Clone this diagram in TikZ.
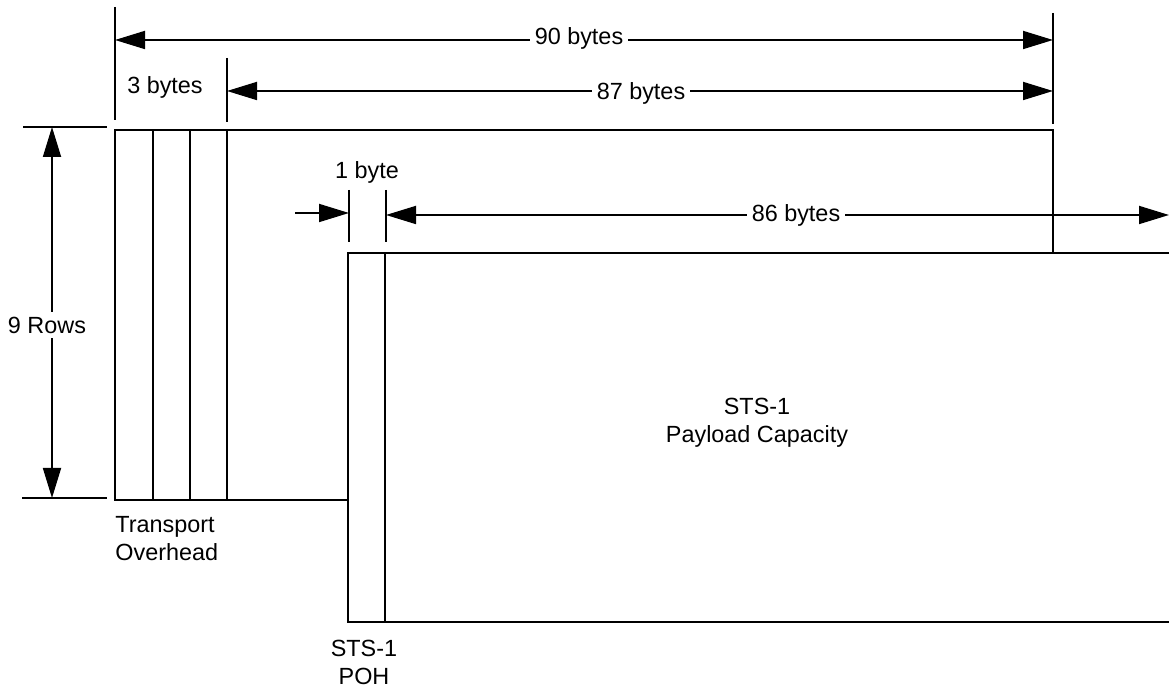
\documentclass[tikz,border=0pt]{standalone}
\usepackage{fontspec}
\setmainfont{Liberation Sans}
\usetikzlibrary{arrows.meta}
\begin{document}
\begin{tikzpicture}[x=0.5pt,y=-0.5pt,
  frame/.style={line width=1.3pt},
  tickline/.style={line width=1.3pt},
  dimline/.style={line width=0.9pt},
  bothtips/.style={{Triangle[length=15pt,width=9pt]}-{Triangle[length=15pt,width=9pt]}},
  endtip/.style={-{Triangle[length=15pt,width=9pt]}},
  lbl/.style={font=\fontsize{11.7}{14}\selectfont, inner sep=2pt},
  gaplbl/.style={lbl, fill=white, inner sep=2.5pt}]
\useasboundingbox (0,0) rectangle (1169,689);
\clip (0,0) rectangle (1169,689);
% transport overhead frame (partly hidden by payload)
\draw[frame] (1053,253) -- (1053,130) -- (115,130) -- (115,500) -- (348,500);
\foreach \cx in {153,190,227} \draw[frame] (\cx,130) -- (\cx,500);
% payload frame
\draw[frame] (348,253) rectangle (1200,622);
\draw[frame] (385,253) -- (385,622);
% extension ticks
\coordinate (a90) at (115,40); \coordinate (b90) at (1053,40);
\coordinate (a87) at (227,91); \coordinate (b87) at (1053,91);
\draw[tickline] (115,7) -- (115,120);
\draw[tickline] (227,58) -- (227,122);
\draw[tickline] (1053,13) -- (1053,124);
\draw[tickline] (23,127) -- (107,127);
\draw[tickline] (22,498) -- (107,498);
\draw[tickline] (349,190) -- (349,242);
\draw[tickline] (386,190) -- (386,242);
% dimension arrows
\draw[dimline,bothtips] (a90) -- (b90);
\node[gaplbl] (l90) at (579,38) {90 bytes};
\draw[dimline,bothtips] (a87) -- (b87);
\node[gaplbl] (l87) at (641,93) {87 bytes};
\coordinate (r9a) at (52,127); \coordinate (r9b) at (52,498);
\draw[dimline,bothtips] (r9a) -- (r9b);
\node[gaplbl] (l9) at (47,325) {9 Rows};
\coordinate (b1s) at (295,213); \coordinate (b1e) at (349,213);
\draw[dimline,endtip] (b1s) -- (b1e);
\coordinate (a86) at (386,215); \coordinate (b86) at (1169,215);
\draw[dimline,bothtips] (a86) -- (b86);
\node[gaplbl] (l86) at (796,215) {86 bytes};
% labels
\node[lbl] (l3) at (165,87) {3 bytes};
\node[lbl] (l1) at (367,172) {1 byte};
\node[lbl, align=left, anchor=west] (toh) at (111,539) {Transport\\Overhead};
\node[lbl, align=center] (poh) at (364,662) {STS-1\\POH};
\node[lbl, align=center] (pay) at (757,423) {STS-1\\Payload Capacity};
\end{tikzpicture}
\end{document}
